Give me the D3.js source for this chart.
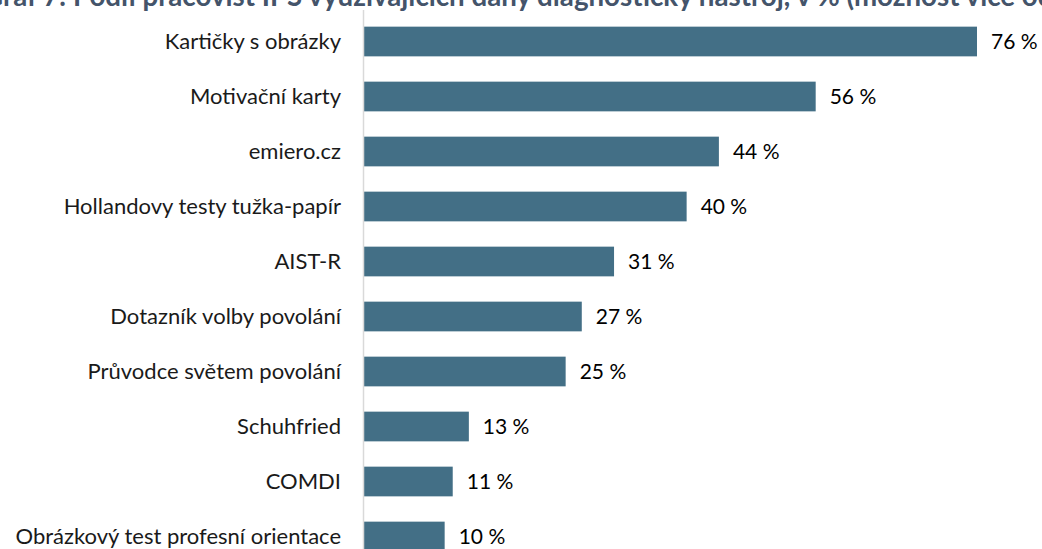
<!DOCTYPE html>
<html><head><meta charset="utf-8">
<script src="https://cdn.jsdelivr.net/npm/d3@7"></script>
<style>body{margin:0;background:#fff;overflow:hidden}svg{display:block}</style>
</head><body>
<script>
const title = "Graf 7: Podíl pracovišť IPS využívajících daný diagnostický nástroj, v % (možnost více odpovědí)";
const categories = ["Kartičky s obrázky","Motivační karty","emiero.cz","Hollandovy testy tužka-papír","AIST-R","Dotazník volby povolání","Průvodce světem povolání","Schuhfried","COMDI","Obrázkový test profesní orientace"];
const values = [76,56,44,40,31,27,25,13,11,10];

const W = 1042, H = 549;
const svg = d3.select("body").append("svg").attr("width", W).attr("height", H);
const font = "Lato, 'Open Sans', sans-serif";

const x = d3.scaleLinear().domain([0, 76]).range([364, 977]);
const y = d3.scaleBand().domain(categories).range([14, 564]).paddingInner(0.46).paddingOuter(0.23);

// title: fit so that "raf" starts near the left edge and "(" near x=847
const t = svg.append("text").attr("y", 6)
  .attr("font-family", font).attr("font-weight", "bold").attr("font-size", 20)
  .attr("fill", "#44546A").text(title);
const n = t.node();
const a = n.getSubStringLength(0, 1), b = n.getSubStringLength(0, title.indexOf("("));
const s = (847 - 3) / (b - a);
t.attr("font-size", 20 * s).attr("x", 3 - a * s);

svg.selectAll("rect.bar").data(categories).join("rect").attr("class","bar")
  .attr("x", x(0)).attr("y", d => y(d)).attr("height", y.bandwidth())
  .attr("width", (d,i) => x(values[i]) - x(0)).attr("fill", "#436F86");

svg.append("line").attr("x1", 363.5).attr("x2", 363.5).attr("y1", 10).attr("y2", H)
  .attr("stroke", "#d9d9d9").attr("stroke-width", 1.5);

const yAxis = d3.axisLeft(y).tickSize(0).tickPadding(22);
const ga = svg.append("g").attr("transform", "translate(363,0)").call(yAxis);
ga.select(".domain").remove();
ga.selectAll("text").attr("font-family", font).attr("font-size", 22).attr("fill", "#1a1a1a");

svg.selectAll("text.val").data(categories).join("text").attr("class","val")
  .attr("x", (d,i) => x(values[i]) + 14).attr("y", d => y(d) + y.bandwidth()/2)
  .attr("dy", "0.35em").attr("font-family", font).attr("font-size", 21).attr("fill", "#000")
  .text((d,i) => values[i] + " %");
</script>
</body></html>
